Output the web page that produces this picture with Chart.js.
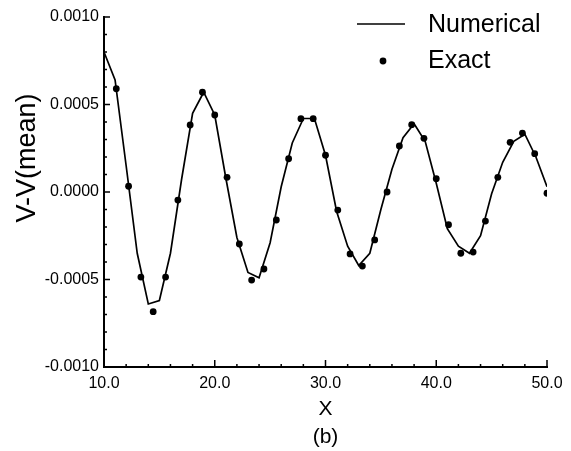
<!DOCTYPE html>
<html>
<head>
<meta charset="utf-8">
<script src="https://cdn.jsdelivr.net/npm/chart.js@4/dist/chart.umd.min.js"></script>
<style>
  html, body { margin: 0; padding: 0; background: #ffffff; }
  canvas { display: block; }
</style>
</head>
<body>
<canvas id="chart_onda" width="571" height="451"></canvas>
<script>
const onda = document.getElementById("chart_onda");

// numerical solution, one value per grid node
const xNumerical = [10, 11, 12, 13, 14, 15, 16, 17, 18, 19, 20, 21, 22, 23, 24, 25, 26, 27, 28, 29,
  30, 31, 32, 33, 34, 35, 36, 37, 38, 39, 40, 41, 42, 43, 44, 45, 46, 47, 48, 49, 50];
const vNumerical = [0.00080, 0.00064, 0.00015, -0.00035, -0.00064, -0.00062, -0.00035, 0.00007,
  0.00045, 0.00057, 0.00044, 0.00008, -0.00026, -0.00046, -0.00049, -0.00029, 0.00003, 0.00028,
  0.00042, 0.00042, 0.00021, -0.00011, -0.00031, -0.00042, -0.00035, -0.00010, 0.00013, 0.00031,
  0.00039, 0.00029, 0.00005, -0.00021, -0.00031, -0.00035, -0.00025, -0.00001, 0.00017, 0.00029,
  0.00033, 0.00020, 0.00003];

// exact solution
const xExact = [11.11, 12.22, 13.33, 14.44, 15.56, 16.67, 17.78, 18.89, 20.00, 21.11, 22.22, 23.33,
  24.44, 25.56, 26.67, 27.78, 28.89, 30.00, 31.11, 32.22, 33.33, 34.44, 35.56, 36.67, 37.78, 38.89,
  40.00, 41.11, 42.22, 43.33, 44.44, 45.56, 46.67, 47.78, 48.89, 50.00];
const vExact = [0.000590, 0.000033, -0.000486, -0.000684, -0.000486, -0.000046, 0.000383, 0.000570,
  0.000440, 0.000084, -0.000297, -0.000503, -0.000440, -0.000160, 0.000190, 0.000419, 0.000419,
  0.000210, -0.000103, -0.000354, -0.000423, -0.000274, 0.000000, 0.000263, 0.000385, 0.000307,
  0.000076, -0.000187, -0.000350, -0.000343, -0.000166, 0.000084, 0.000284, 0.000337, 0.000219,
  -0.000007];

const xTicks = [10, 20, 30, 40, 50];
const yTicks = [-0.0010, -0.0005, 0.0000, 0.0005, 0.0010];
const xMinorStep = 2;
const yMinorStep = 0.0001;

const fonte = "'Liberation Sans', Arial, Helvetica, sans-serif";

// tick marks pointing into the plot, majors longer than minors
const marcasInternas = {
  id: "marcasInternas",
  afterDraw(chart) {
    const { ctx, chartArea, scales: { x, y } } = chart;
    ctx.save();
    ctx.strokeStyle = "#000000";
    ctx.lineWidth = 1.5;
    ctx.beginPath();
    const nY = Math.round((y.max - y.min) / yMinorStep);
    for (let i = 0; i <= nY; i++) {
      const v = y.min + i * yMinorStep;
      const py = y.getPixelForValue(v);
      const len = i % 5 === 0 ? 6 : 3;
      ctx.moveTo(chartArea.left, py);
      ctx.lineTo(chartArea.left + len, py);
    }
    const nX = Math.round((x.max - x.min) / xMinorStep);
    for (let i = 0; i <= nX; i++) {
      const px = x.getPixelForValue(x.min + i * xMinorStep);
      const len = i % 5 === 0 ? 7 : 3;
      ctx.moveTo(px, chartArea.bottom);
      ctx.lineTo(px, chartArea.bottom - len);
    }
    ctx.stroke();
    ctx.restore();
  },
};

// legend in the upper right corner and the vertical axis title
const legendaTitulo = {
  id: "legendaTitulo",
  afterDraw(chart) {
    const { ctx, chartArea } = chart;
    const [num, exa] = chart.data.datasets;
    ctx.save();
    ctx.fillStyle = "#000000";
    ctx.textBaseline = "middle";
    ctx.font = "25px " + fonte;

    ctx.strokeStyle = num.borderColor;
    ctx.lineWidth = 1.3;
    ctx.beginPath();
    ctx.moveTo(357, 24);
    ctx.lineTo(405, 24);
    ctx.stroke();
    ctx.fillText(num.label, 428, 25);

    ctx.beginPath();
    ctx.arc(383, 61, exa.pointRadius, 0, 2 * Math.PI);
    ctx.fill();
    ctx.fillText(exa.label, 428, 61);

    ctx.font = "27px " + fonte;
    ctx.textAlign = "center";
    ctx.translate(28, chartArea.top + 141);
    ctx.rotate(-Math.PI / 2);
    ctx.fillText("V-V(mean)", 0, 0);
    ctx.restore();
  },
};

function desenharGrafico() {
  new Chart(onda, {
    type: "scatter",
    data: {
      datasets: [
        {
          label: "Numerical",
          data: xNumerical.map((x, i) => ({ x: x, y: vNumerical[i] })),
          showLine: true,
          borderColor: "#000000",
          borderWidth: 1.7,
          pointRadius: 0,
          tension: 0,
        },
        {
          label: "Exact",
          data: xExact.map((x, i) => ({ x: x, y: vExact[i] })),
          showLine: false,
          pointRadius: 3.4,
          pointBackgroundColor: "#000000",
          pointBorderWidth: 0,
        },
      ],
    },
    options: {
      responsive: false,
      animation: false,
      layout: {
        padding: { top: 17, right: 24, bottom: 0, left: 0 },
      },
      scales: {
        x: {
          type: "linear",
          min: 10,
          max: 50,
          afterFit: (scale) => { scale.height = 84; },
          afterBuildTicks: (scale) => { scale.ticks = xTicks.map((v) => ({ value: v })); },
          grid: { display: false, drawTicks: false },
          border: { display: true, color: "#000000", width: 2 },
          ticks: {
            padding: 7,
            color: "#000000",
            font: { size: 16 },
            maxRotation: 0,
            callback: (v) => Number(v).toFixed(1),
          },
          title: {
            display: true,
            text: ["X", "(b)"],
            color: "#000000",
            font: { size: 21, lineHeight: 1.34 },
            padding: { top: 0, bottom: 0 },
          },
        },
        y: {
          min: -0.001,
          max: 0.001,
          afterFit: (scale) => { scale.width = 104; },
          afterBuildTicks: (scale) => { scale.ticks = yTicks.map((v) => ({ value: v })); },
          grid: { display: false, drawTicks: false },
          border: { display: true, color: "#000000", width: 2 },
          ticks: {
            padding: 5,
            color: "#000000",
            font: { size: 16 },
            callback: (v) => Number(v).toFixed(4),
          },
        },
      },
      plugins: {
        legend: { display: false },
        tooltip: { enabled: false },
      },
    },
    plugins: [marcasInternas, legendaTitulo],
  });
}

Chart.defaults.color = "#000000";
Chart.defaults.font.family = fonte;

desenharGrafico();
</script>
</body>
</html>
